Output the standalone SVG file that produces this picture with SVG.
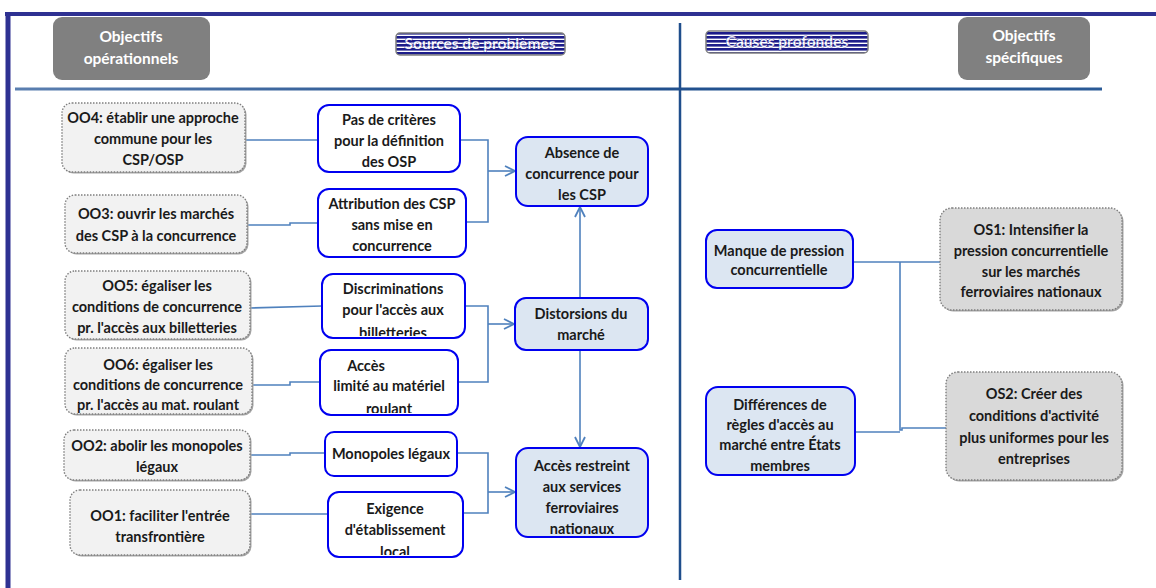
<svg xmlns="http://www.w3.org/2000/svg" width="1156" height="588" viewBox="0 0 1156 588">
<defs>
<pattern id="stripes" width="8" height="4" patternUnits="userSpaceOnUse">
<rect width="8" height="4" fill="#ffffff"/>
<rect width="8" height="2.6" fill="#1C1C8A"/>
</pattern>
<pattern id="overstripes" width="8" height="4" patternUnits="userSpaceOnUse">
<rect y="0.8" width="8" height="1" fill="#1C1C8A"/>
</pattern>
<linearGradient id="hl" x1="0" y1="0" x2="1" y2="0">
<stop offset="0" stop-color="#5B7FB0"/>
<stop offset="0.5" stop-color="#1F4E8C"/>
<stop offset="1" stop-color="#2A5A96"/>
</linearGradient>
<marker id="arr" viewBox="0 0 12 12" refX="11" refY="6" markerWidth="12" markerHeight="12" markerUnits="userSpaceOnUse" orient="auto">
<path d="M1,1 L11,6 L1,11" fill="none" stroke="#4F81BD" stroke-width="1.8"/>
</marker>
<clipPath id="c1"><rect x="322" y="274" width="143" height="62"/></clipPath>
<clipPath id="c2"><rect x="320" y="350" width="138" height="63"/></clipPath>
<clipPath id="c3"><rect x="328" y="492" width="135" height="63"/></clipPath>
</defs>
<style>
text{font-family:Lato,"Liberation Sans",sans-serif;font-weight:bold;font-size:14.5px;fill:#1a1a1a;text-anchor:middle}
.hdr{fill:#808080;stroke:none}
.hdrt{fill:#ffffff;font-size:15.5px}
.strip{fill:url(#stripes);stroke:#7F7F7F;stroke-width:1.5}
.stript{fill:#ffffff;stroke:#1C1C8A;stroke-width:0.7;paint-order:stroke;font-size:15.5px}
.ov{fill:url(#overstripes);opacity:0.35}
.oo{fill:#F2F2F2;stroke:#7F7F7F;stroke-width:1.4;stroke-dasharray:1.5 1.5}
.os{fill:#D9D9D9;stroke:#7F7F7F;stroke-width:1.4;stroke-dasharray:1.5 1.5}
.sh{fill:#A6A6A6}
.src{fill:#ffffff;stroke:#0000F0;stroke-width:2}
.tgt{fill:#DCE6F2;stroke:#0000F0;stroke-width:2}
.con{fill:none;stroke:#4F81BD;stroke-width:1.6}
</style>
<rect width="1156" height="588" fill="#ffffff"/>
<g id="frame">
<line x1="5" y1="14" x2="1156" y2="14" stroke="#2E3192" stroke-width="4"/>
<line x1="8" y1="12" x2="8" y2="588" stroke="#2E3192" stroke-width="5"/>
<rect x="15" y="87.5" width="1087" height="3" fill="url(#hl)"/>
<line x1="680" y1="23" x2="680" y2="580" stroke="#1F4E8C" stroke-width="2.5"/>
</g>
<g id="h-oo">
<rect class="hdr" x="53" y="17" width="157" height="63" rx="9"/>
<text class="hdrt" x="131" y="42">Objectifs</text>
<text class="hdrt" x="131" y="64">opérationnels</text>
</g>
<g id="h-sources">
<rect class="strip" x="396" y="33" width="169" height="22" rx="4"/>
<text class="stript" x="480" y="49">Sources de problèmes</text>
<rect class="ov" x="398" y="35" width="165" height="18"/>
</g>
<g id="h-causes">
<rect class="strip" x="706" y="31" width="162" height="22" rx="4"/>
<text class="stript" x="787" y="47">Causes profondes</text>
<rect class="ov" x="708" y="33" width="158" height="18"/>
</g>
<g id="h-os">
<rect class="hdr" x="958" y="17" width="132" height="63" rx="9"/>
<text class="hdrt" x="1024" y="41">Objectifs</text>
<text class="hdrt" x="1024" y="63">spécifiques</text>
</g>
<g id="connectors">
<polyline class="con" points="245,140 318,140"/>
<polyline class="con" points="247,225 290,225 290,223 318,223"/>
<polyline class="con" points="250,308 322,306"/>
<polyline class="con" points="252,385 290,385 290,382 320,382"/>
<polyline class="con" points="250,455 290,455 290,453 325,453"/>
<polyline class="con" points="250,514 328,514"/>
<polyline class="con" points="460,140 488,140 488,222 466,222"/>
<line class="con" x1="488" y1="171" x2="515" y2="171" marker-end="url(#arr)"/>
<polyline class="con" points="465,306 488,306 488,382 458,382"/>
<line class="con" x1="488" y1="324" x2="514" y2="324" marker-end="url(#arr)"/>
<polyline class="con" points="457,453 488,453 488,513 463,513"/>
<line class="con" x1="488" y1="492" x2="515" y2="492" marker-end="url(#arr)"/>
<line class="con" x1="580" y1="298" x2="580" y2="207" marker-end="url(#arr)"/>
<line class="con" x1="580" y1="350" x2="580" y2="447" marker-end="url(#arr)"/>
<polyline class="con" points="853,262 940,262"/>
<polyline class="con" points="900,262 900,430 902,430 902,428 946,428"/>
<polyline class="con" points="855,432 900,432"/>
</g>
<g id="oo4">
<rect class="sh" x="63.5" y="104.5" width="183" height="69" rx="10"/>
<rect class="oo" x="62" y="103" width="183" height="69" rx="10"/>
<text x="153" y="123">OO4: établir une approche</text>
<text x="153" y="144">commune pour les</text>
<text x="153" y="165">CSP/OSP</text>
</g>
<g id="oo3">
<rect class="sh" x="66.5" y="196.5" width="182" height="58" rx="10"/>
<rect class="oo" x="65" y="195" width="182" height="58" rx="10"/>
<text x="156" y="219">OO3: ouvrir les marchés</text>
<text x="156" y="241">des CSP à la concurrence</text>
</g>
<g id="oo5">
<rect class="sh" x="66.5" y="272.5" width="185" height="68" rx="10"/>
<rect class="oo" x="65" y="271" width="185" height="68" rx="10"/>
<text x="157" y="291">OO5: égaliser les</text>
<text x="157" y="312">conditions de concurrence</text>
<text x="157" y="333">pr. l'accès aux billetteries</text>
</g>
<g id="oo6">
<rect class="sh" x="66.5" y="349.5" width="187" height="66" rx="10"/>
<rect class="oo" x="65" y="348" width="187" height="66" rx="10"/>
<text x="158" y="370">OO6: égaliser les</text>
<text x="158" y="390">conditions de concurrence</text>
<text x="158" y="410">pr. l'accès au mat. roulant</text>
</g>
<g id="oo2">
<rect class="sh" x="65.5" y="431.5" width="186" height="50" rx="10"/>
<rect class="oo" x="64" y="430" width="186" height="50" rx="10"/>
<text x="157" y="451">OO2: abolir les monopoles</text>
<text x="157" y="472">légaux</text>
</g>
<g id="oo1">
<rect class="sh" x="71.5" y="491.5" width="180" height="65" rx="10"/>
<rect class="oo" x="70" y="490" width="180" height="65" rx="10"/>
<text x="160" y="521">OO1: faciliter l'entrée</text>
<text x="160" y="542">transfrontière</text>
</g>
<g id="s-criteres">
<rect class="src" x="318" y="105" width="142" height="67" rx="11"/>
<text x="389" y="125">Pas de critères</text>
<text x="389" y="146">pour la définition</text>
<text x="389" y="167">des OSP</text>
</g>
<g id="s-attribution">
<rect class="src" x="318" y="189" width="148" height="68" rx="11"/>
<text x="392" y="209">Attribution des CSP</text>
<text x="392" y="230">sans mise en</text>
<text x="392" y="251">concurrence</text>
</g>
<g id="s-discrim">
<rect class="src" x="322" y="274" width="143" height="64" rx="11"/>
<g clip-path="url(#c1)">
<text x="393" y="294">Discriminations</text>
<text x="393" y="315">pour l'accès aux</text>
<text x="393" y="338">billetteries</text>
</g>
</g>
<g id="s-acces">
<rect class="src" x="320" y="350" width="138" height="65" rx="11"/>
<g clip-path="url(#c2)">
<text x="366" y="371">Accès</text>
<text x="389" y="391">limité au matériel</text>
<text x="389" y="414">roulant</text>
</g>
</g>
<g id="s-monopoles">
<rect class="src" x="325" y="432" width="132" height="44" rx="9"/>
<text x="391" y="459">Monopoles légaux</text>
</g>
<g id="s-exigence">
<rect class="src" x="328" y="492" width="135" height="65" rx="11"/>
<g clip-path="url(#c3)">
<text x="395" y="514">Exigence</text>
<text x="395" y="535">d'établissement</text>
<text x="395" y="557">local</text>
</g>
</g>
<g id="t-absence">
<rect class="tgt" x="516" y="137" width="132" height="69" rx="12"/>
<text x="582" y="158">Absence de</text>
<text x="582" y="179">concurrence pour</text>
<text x="582" y="200">les CSP</text>
</g>
<g id="t-distorsions">
<rect class="tgt" x="515" y="298" width="133" height="52" rx="11"/>
<text x="581" y="319">Distorsions du</text>
<text x="581" y="340">marché</text>
</g>
<g id="t-restreint">
<rect class="tgt" x="516" y="448" width="132" height="89" rx="12"/>
<text x="582" y="471">Accès restreint</text>
<text x="582" y="492">aux services</text>
<text x="582" y="513">ferroviaires</text>
<text x="582" y="534">nationaux</text>
</g>
<g id="c-manque">
<rect class="tgt" x="706" y="230" width="147" height="58" rx="11"/>
<text x="779" y="256">Manque de pression</text>
<text x="779" y="275">concurrentielle</text>
</g>
<g id="c-differences">
<rect class="tgt" x="706" y="387" width="149" height="88" rx="12"/>
<text x="780" y="410">Différences de</text>
<text x="780" y="430">règles d'accès au</text>
<text x="780" y="450">marché entre États</text>
<text x="780" y="471">membres</text>
</g>
<g id="os1">
<rect class="sh" x="941.5" y="209.5" width="182" height="102" rx="12"/>
<rect class="os" x="940" y="208" width="182" height="102" rx="12"/>
<text x="1031" y="235">OS1: Intensifier la</text>
<text x="1031" y="256">pression concurrentielle</text>
<text x="1031" y="277">sur les marchés</text>
<text x="1031" y="297">ferroviaires nationaux</text>
</g>
<g id="os2">
<rect class="sh" x="947.5" y="373.5" width="176" height="108" rx="12"/>
<rect class="os" x="946" y="372" width="176" height="108" rx="12"/>
<text x="1034" y="399">OS2: Créer des</text>
<text x="1034" y="421">conditions d'activité</text>
<text x="1034" y="443">plus uniformes pour les</text>
<text x="1034" y="464">entreprises</text>
</g>
</svg>
